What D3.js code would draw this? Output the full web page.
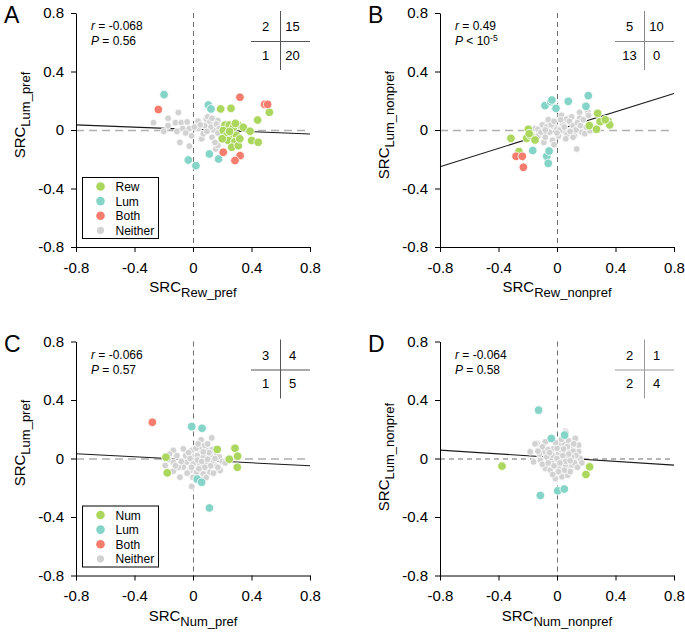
<!DOCTYPE html>
<html><head><meta charset="utf-8">
<script src="https://cdn.jsdelivr.net/npm/d3@7"></script>
<style>
body{margin:0;background:#fff;}
svg{display:block;}
text{font-family:"Liberation Sans",Arial,Helvetica,sans-serif;}
</style>
</head><body>
<svg id="chart" width="685" height="635"></svg>
<script>
// ---------- data ----------
const tickValues = [-0.8, -0.4, 0, 0.4, 0.8];
const tickLabels = ["-0.8", "-0.4", "0", "0.4", "0.8"];

// Panel A: SRC Rew_pref vs SRC Lum_pref
const aRew = [[0.189,0.144],[0.26,0.148],[0.522,0.121],[0.442,0.068],[0.219,0.034],[0.248,0.034],[0.31,0.034],[0.344,0.018],[0.276,0.018],[0.29,0.045],
  [0.39,-0.009],[0.207,-0.004],[0.23,-0.038],[0.271,-0.05],[0.298,-0.038],[0.241,-0.072],[0.287,-0.08],[0.401,-0.072],[0.446,-0.084],[0.265,-0.118],[0.31,-0.107],[0.20,-0.06],[0.32,-0.06],[0.25,-0.01]];
const aLum = [[-0.198,0.242],[0.105,0.171],[0.123,0.144],[-0.032,-0.205],[0.02,-0.244],[0.112,-0.164],[0.175,-0.198]];
const aBoth = [[-0.237,0.14],[0.321,0.224],[0.49,0.175],[0.51,0.175],[0.207,-0.152],[0.322,-0.175],[0.287,-0.209]];
const aNeither = [[-0.27,0.05],[-0.2,-0.01],[-0.17,0.08],[-0.17,0.03],[-0.1,0.12],[-0.12,0.05],[-0.08,0.05],[-0.11,-0.01],[-0.07,0.01],[-0.09,-0.085],
  [-0.025,0.01],[-0.01,-0.04],[-0.025,-0.11],[0.035,0.06],[0.035,0.01],[0.06,-0.06],[0.07,-0.025],[0.09,0.075],[0.1,0.09],[0.115,0.055],
  [0.14,0.0],[0.17,0.065],[0.13,-0.05],[0.155,-0.13],[0.17,-0.105],[0.16,0.04],[0.15,-0.085],[0.12,0.02],[0.08,0.03],[0.01,0.02],
  [-0.04,0.055],[0.18,0.01],[0.19,-0.04],[0.05,0.035],[-0.05,-0.02],[0.095,-0.01],[0.17,-0.02],[0.13,0.08]];
const aFit = [[-0.8,0.035],[0.8,-0.027]];
const aStats = ["-0.068", "= 0.56"];
const aTable = [2, 15, 1, 20];

// Panel B: SRC Rew_nonpref vs SRC Lum_nonpref
const bRew = [[-0.196,0.005],[0.278,0.114],[0.221,0.03],[0.295,0.057],[0.35,0.06],[0.36,0.035],[0.27,0.005],[0.33,0.07],
  [-0.315,-0.057],[-0.207,-0.057],[-0.18,-0.038],[-0.19,-0.025],[-0.15,-0.068],[-0.26,-0.147]];
const bLum = [[-0.082,0.167],[-0.043,0.194],[-0.035,0.205],[-0.007,0.148],[0.077,0.196],[0.198,0.162],[0.214,0.235],
  [-0.166,-0.14],[-0.07,-0.18],[-0.054,-0.144],[-0.06,-0.228]];
const bBoth = [[-0.28,-0.18],[-0.237,-0.18],[-0.23,-0.255]];
const bNeither = [[-0.17,-0.04],[-0.15,0.01],[-0.13,0.005],[-0.13,-0.04],[-0.1,0.035],[-0.09,-0.085],[-0.08,-0.05],[-0.06,0.07],[-0.07,0.02],[-0.05,-0.015],
  [-0.03,-0.07],[-0.015,0.02],[-0.02,-0.1],[0.0,0.005],[0.01,-0.04],[0.03,0.1],[0.04,0.04],[0.045,-0.005],[0.02,0.0],[0.065,0.075],
  [0.1,0.09],[0.085,0.06],[0.11,0.03],[0.12,-0.04],[0.135,-0.13],[0.155,0.12],[0.155,0.08],[0.17,-0.015],[0.19,-0.025],[0.21,0.125],
  [0.215,0.1],[0.225,-0.005],[0.13,0.0],[0.07,-0.03],[-0.04,0.035],[-0.11,-0.015],[0.05,0.02],[0.09,-0.01],[0.14,0.05],[-0.02,0.06],
  [0.0,-0.02],[0.11,-0.05],[0.18,0.07],[0.025,0.07],[-0.08,0.0],[0.06,-0.06],[0.16,0.03],[0.2,0.02]];
const bFit = [[-0.8,-0.251],[0.8,0.25]];
const bStats = ["0.49", "< 10"];
const bTable = [5, 10, 13, 0];

// Panel C: SRC Num_pref vs SRC Lum_pref
const cNum = [[-0.185,0.009],[0.166,0.062],[0.287,0.07],[0.305,0.016],[0.248,-0.005],[0.303,-0.06],[-0.176,-0.098]];
const cLum = [[-0.009,0.218],[0.062,0.207],[0.029,-0.141],[0.059,-0.162],[0.112,-0.338]];
const cBoth = [[-0.278,0.248]];
const cNeither = [[0.128,0.141],[0.055,0.128],[0.055,0.077],[-0.135,0.055],[-0.066,0.066],[-0.19,-0.048],[-0.135,-0.025],[-0.089,-0.128],[-0.009,-0.191],[0.185,-0.082],
  [0.15,-0.048],[-0.135,-0.087],[-0.009,0.055],[0.002,0.009],[0.048,0.032],[0.094,0.055],[0.116,0.021],[-0.043,-0.025],[0.002,-0.036],[0.048,-0.036],
  [0.094,-0.025],[0.139,-0.014],[-0.066,-0.059],[-0.02,-0.082],[0.025,-0.094],[0.07,-0.105],[0.116,-0.094],
  [-0.16,0.03],[-0.17,-0.005],[-0.11,0.02],[-0.1,-0.06],[-0.05,0.02],[-0.03,0.04],[0.02,0.07],[0.03,0.02],[0.07,0.01],[0.08,0.09],[0.1,0.1],
  [0.13,0.06],[0.16,0.04],[0.18,0.01],[0.2,-0.02],[0.22,-0.03],[0.17,-0.06],[0.12,-0.05],[0.08,-0.06],[0.04,-0.07],[-0.01,-0.06],[-0.04,-0.1],
  [0.0,-0.13],[0.05,-0.14],[0.09,-0.13],[0.14,-0.1],[-0.08,-0.02],[0.03,-0.01],[0.06,-0.02],[0.1,-0.005],[-0.02,0.0],[0.11,0.04],[0.15,0.0],
  [0.07,0.045],[-0.12,-0.05],[0.035,0.1]];
const cFit = [[-0.8,0.032],[0.8,-0.05]];
const cStats = ["-0.066", "= 0.57"];
const cTable = [3, 4, 1, 5];

// Panel D: SRC Num_nonpref vs SRC Lum_nonpref
const dNum = [[-0.376,-0.052],[0.223,-0.057],[0.198,-0.109]];
const dLum = [[-0.126,0.331],[-0.039,0.137],[0.052,0.16],[0.005,-0.221],[0.05,-0.209],[-0.114,-0.253]];
const dBoth = [];
const dNeither = [[0.057,0.187],[-0.183,0.046],[-0.137,0.103],[-0.08,0.114],[-0.16,-0.023],[-0.114,-0.011],[-0.08,-0.068],[-0.046,-0.08],[-0.012,-0.137],[0.034,-0.125],
  [0.073,-0.114],[0.079,-0.068],[0.148,0.092],[0.148,0.046],[0.159,0.0],[0.114,-0.011],[0.091,0.057],[0.023,0.092],[-0.023,0.068],[-0.034,0.023],
  [0.011,0.034],[0.046,0.046],[0.068,0.0],[0.023,-0.011],[-0.034,-0.034],[0.011,-0.057],[0.057,-0.045],[0.102,-0.045],[-0.09,0.046],[0.125,0.137],
  [0.06,0.175],[-0.15,0.1],[-0.1,0.08],[-0.06,0.06],[-0.12,0.03],[-0.07,0.01],[-0.1,-0.04],[-0.06,-0.03],[-0.02,-0.05],[0.0,0.0],
  [0.03,0.06],[0.05,0.1],[0.08,0.12],[0.1,0.09],[0.11,0.05],[0.13,0.02],[0.1,0.01],[0.08,0.03],[0.04,0.02],[0.0,0.07],
  [-0.01,0.11],[0.03,0.13],[0.07,0.08],[0.12,-0.03],[0.09,-0.09],[0.05,-0.08],[0.01,-0.09],[-0.03,-0.11],[0.17,-0.03],[0.14,-0.06],
  [0.06,-0.02],[-0.05,0.04],[0.02,-0.03],[0.09,-0.015],[-0.13,0.05],[0.045,0.065],[0.115,0.1]];
const dFit = [[-0.8,0.057],[0.8,-0.045]];
const dStats = ["-0.064", "= 0.58"];
const dTable = [2, 1, 2, 4];

const legendA = ["Rew", "Lum", "Both", "Neither"];
const legendC = ["Num", "Lum", "Both", "Neither"];

// ---------- styles ----------
const COL = {sig: "#abd75f", lum: "#84d4c8", both: "#f67c6d", neither: "#d2d2d2"};
const FONT = '"Liberation Sans", Arial, Helvetica, sans-serif';
const size = 234;
const svg = d3.select("#chart");

function drawPanel(c) {
  const g = svg.append("g");
  const x = d3.scaleLinear().domain([-0.8, 0.8]).range([c.left, c.left + size]);
  const y = d3.scaleLinear().domain([-0.8, 0.8]).range([c.top + size, c.top]);

  // zero reference lines
  g.append("line").attr("x1", x(-0.8)).attr("x2", x(0.8)).attr("y1", y(0) + 0.5).attr("y2", y(0) + 0.5)
    .attr("stroke", c.hColor).attr("stroke-width", c.hWidth).attr("stroke-dasharray", c.hDash);
  g.append("line").attr("x1", x(0) + 0.5).attr("x2", x(0) + 0.5).attr("y1", y(0.8)).attr("y2", y(-0.8))
    .attr("stroke", "#6e6e6e").attr("stroke-width", 1).attr("stroke-dasharray", "5,4");

  // regression line
  g.append("line").attr("x1", x(c.fit[0][0])).attr("y1", y(c.fit[0][1]))
    .attr("x2", x(c.fit[1][0])).attr("y2", y(c.fit[1][1]))
    .attr("stroke", "#1a1a1a").attr("stroke-width", 1.1);

  // points
  const groups = [
    {data: c.neither, color: COL.neither, r: 3.4},
    {data: c.sig, color: COL.sig, r: 4.3},
    {data: c.lum, color: COL.lum, r: 4.3},
    {data: c.both, color: COL.both, r: 4.3}
  ];
  groups.forEach(gr => {
    g.append("g").selectAll("circle").data(gr.data).join("circle")
      .attr("cx", d => x(d[0])).attr("cy", d => y(d[1])).attr("r", gr.r)
      .attr("fill", gr.color).attr("stroke", "#fff").attr("stroke-width", 0.8);
  });

  // axes
  const fmt = (d) => tickLabels[tickValues.indexOf(d)];
  const ya = g.append("g").attr("transform", `translate(${c.left},0)`)
    .call(d3.axisLeft(y).tickValues(tickValues).tickFormat(fmt).tickSize(5).tickSizeOuter(0).tickPadding(7));
  const xa = g.append("g").attr("transform", `translate(0,${c.top + size})`)
    .call(d3.axisBottom(x).tickValues(tickValues).tickFormat(fmt).tickSize(5).tickSizeOuter(0).tickPadding(10));
  [ya, xa].forEach(a => {
    a.attr("font-size", 15).attr("font-family", FONT);
    a.selectAll("text").attr("fill", "#000");
    a.selectAll("line,path").attr("stroke", "#000").attr("stroke-width", 1);
  });

  // axis titles
  const xt = g.append("text").attr("x", c.left + size / 2).attr("y", c.top + size + 45)
    .attr("text-anchor", "middle").attr("font-size", 15).attr("fill", "#000");
  xt.append("tspan").text("SRC");
  xt.append("tspan").attr("dy", 5).attr("font-size", 13).text(c.xSub);

  const yt = g.append("text").attr("transform", `translate(${c.left - 51},${c.yMid}) rotate(-90)`)
    .attr("text-anchor", "middle").attr("font-size", 15).attr("fill", "#000");
  yt.append("tspan").text("SRC");
  yt.append("tspan").attr("dy", 5).attr("font-size", 13).text(c.ySub);

  // panel letter
  g.append("text").attr("x", c.left - 72).attr("y", c.top + 10).attr("font-size", 23).attr("fill", "#000").text(c.letter);

  // stats
  const s1 = g.append("text").attr("x", c.left + 15).attr("y", c.top + 17).attr("font-size", 12).attr("fill", "#000");
  s1.append("tspan").attr("font-style", "italic").text("r");
  s1.append("tspan").text(" = " + c.stats[0]);
  const s2 = g.append("text").attr("x", c.left + 15).attr("y", c.top + 32).attr("font-size", 12).attr("fill", "#000");
  s2.append("tspan").attr("font-style", "italic").text("P");
  s2.append("tspan").text(" " + c.stats[1]);
  if (c.sup) s2.append("tspan").attr("dy", -4).attr("font-size", 8.5).text(c.sup);

  // contingency table
  const vx = c.left + 204.5;
  g.append("line").attr("x1", vx).attr("x2", vx).attr("y1", c.top - 2).attr("y2", c.top + 57)
    .attr("stroke", c.tColor).attr("stroke-width", 1);
  g.append("line").attr("x1", c.left + 175).attr("x2", c.left + size).attr("y1", c.top + 28.5).attr("y2", c.top + 28.5)
    .attr("stroke", c.tColor).attr("stroke-width", 1);
  const cells = [[vx - 15, c.top + 18], [vx + 12, c.top + 18], [vx - 15, c.top + 46.5], [vx + 12, c.top + 46.5]];
  g.selectAll(null).data(c.table).join("text")
    .attr("x", (d, i) => cells[i][0]).attr("y", (d, i) => cells[i][1])
    .attr("text-anchor", "middle").attr("font-size", 13).attr("fill", "#000").text(d => d);

  // legend
  if (c.legend) {
    const lx = c.left + 6.5, ly = c.top + size - 69.5;
    g.append("rect").attr("x", lx).attr("y", ly).attr("width", 76).attr("height", 61)
      .attr("fill", "#fff").attr("stroke", "#000").attr("stroke-width", 1);
    const lc = [COL.sig, COL.lum, COL.both, COL.neither];
    const lr = [4.3, 4.3, 4.3, 3.6];
    c.legend.forEach((name, i) => {
      const cy = ly + 9 + i * 14.6;
      g.append("circle").attr("cx", lx + 18).attr("cy", cy).attr("r", lr[i]).attr("fill", lc[i]);
      g.append("text").attr("x", lx + 33).attr("y", cy + 4.5).attr("font-size", 12).attr("fill", "#000").text(name);
    });
  }
}

const lightDash = {hColor: "#b0b0b0", hWidth: 1.3, hDash: "8,5"};
drawPanel(Object.assign({left: 76, top: 13, letter: "A", xSub: "Rew_pref", ySub: "Lum_pref", yMid: 115,
  sig: aRew, lum: aLum, both: aBoth, neither: aNeither, fit: aFit, stats: aStats, table: aTable, tColor: "#555", legend: legendA}, lightDash));
drawPanel(Object.assign({left: 440, top: 13, letter: "B", xSub: "Rew_nonpref", ySub: "Lum_nonpref", yMid: 125,
  sig: bRew, lum: bLum, both: bBoth, neither: bNeither, fit: bFit, stats: bStats, sup: "-5", table: bTable, tColor: "#888", legend: null}, lightDash));
drawPanel(Object.assign({left: 76, top: 341.5, letter: "C", xSub: "Num_pref", ySub: "Lum_pref", yMid: 443,
  sig: cNum, lum: cLum, both: cBoth, neither: cNeither, fit: cFit, stats: cStats, table: cTable, tColor: "#555", legend: legendC}, lightDash));
drawPanel({left: 440, top: 341.5, letter: "D", xSub: "Num_nonpref", ySub: "Lum_nonpref", yMid: 457,
  sig: dNum, lum: dLum, both: dBoth, neither: dNeither, fit: dFit, stats: dStats, table: dTable, tColor: "#999", legend: null,
  hColor: "#6e6e6e", hWidth: 1, hDash: "5,4"});
</script>
</body></html>
